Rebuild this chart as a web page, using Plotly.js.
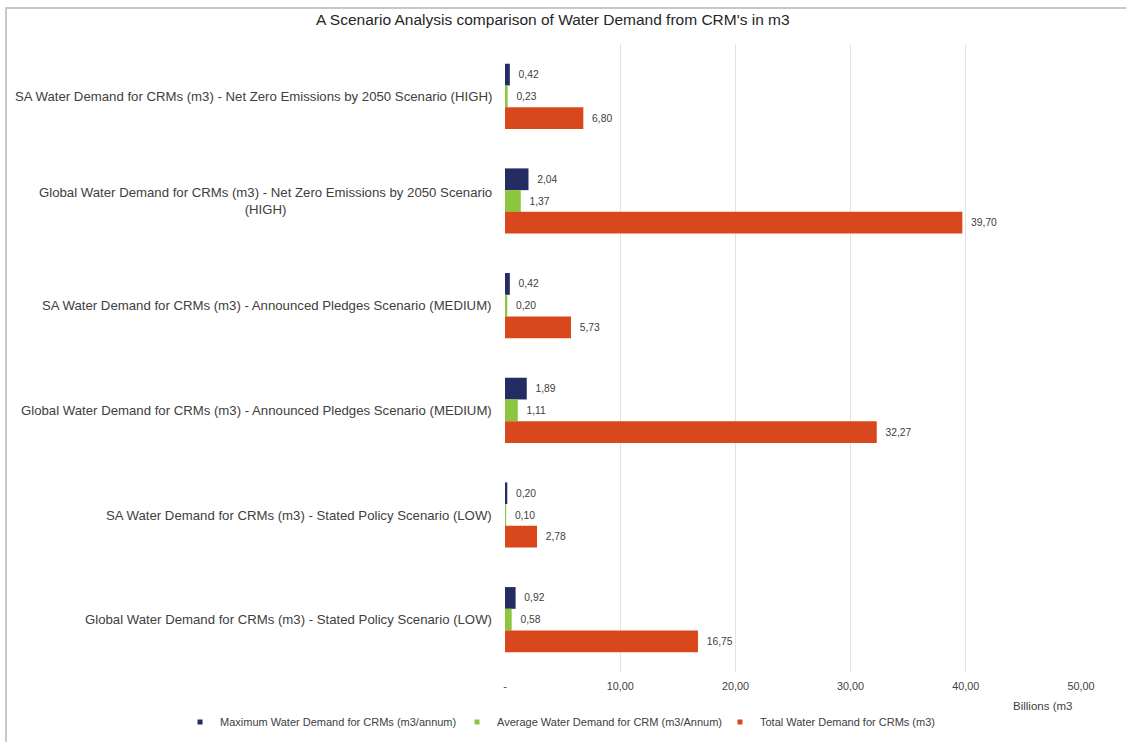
<!DOCTYPE html>
<html>
<head>
<meta charset="utf-8">
<script src="https://cdn.plot.ly/plotly-3.0.1.min.js"></script>
<style>
  html, body { margin: 0; padding: 0; background: #fff; }
  #wrap { position: relative; width: 1126px; height: 742px; }
  #chart { position: absolute; left: 0; top: 0; width: 1126px; height: 742px; }
  #frame { position: absolute; left: 5px; top: 7px; right: 0; bottom: 0;
           border-top: 2px solid #c8c8c8; border-left: 2px solid #c8c8c8; pointer-events: none; }
</style>
</head>
<body>
<div id="wrap"><div id="chart"></div><div id="frame"></div></div>
<script>
const categories = [
  "SA Water Demand for CRMs (m3) - Net Zero Emissions by 2050 Scenario (HIGH)",
  "Global Water Demand for CRMs (m3) - Net Zero Emissions by 2050 Scenario<br>(HIGH)",
  "SA Water Demand for CRMs (m3) - Announced Pledges Scenario (MEDIUM)",
  "Global Water Demand for CRMs (m3) - Announced Pledges Scenario (MEDIUM)",
  "SA Water Demand for CRMs (m3) - Stated Policy Scenario (LOW)",
  "Global Water Demand for CRMs (m3) - Stated Policy Scenario (LOW)"
];
const maxDemand   = [0.42, 2.04, 0.42, 1.89, 0.20, 0.92];
const avgDemand   = [0.23, 1.37, 0.20, 1.11, 0.10, 0.58];
const totalDemand = [6.80, 39.70, 5.73, 32.27, 2.78, 16.75];
const seriesNames = [
  "Maximum Water Demand for CRMs (m3/annum)",
  "Average Water Demand for CRM (m3/Annum)",
  "Total Water Demand for CRMs (m3)"
];
const xTickVals = [0, 10, 20, 30, 40, 50];
const xTickText = ["-", "10,00", "20,00", "30,00", "40,00", "50,00"];
const chartTitle = "A Scenario Analysis comparison of Water Demand from CRM's in m3";
const xAxisLabel = "Billions (m3";

const colors = ["#232c63", "#8cc63e", "#d9481c"];
const values = [maxDemand, avgDemand, totalDemand];
const FONT = "Liberation Sans, Arial, sans-serif";

const traces = [];
values.forEach((v, i) => {
  traces.push({
    type: "bar", orientation: "h",
    x: v, y: categories, name: seriesNames[i],
    marker: { color: colors[i] },
    texttemplate: "\u00a0\u00a0%{x:.2f}",
    textposition: "outside",
    constraintext: "none",
    cliponaxis: false,
    textfont: { family: FONT, size: 10.3, color: "#404040" },
    showlegend: false,
    hoverinfo: "x+name"
  });
});
// legend entries (small square markers)
const legendIds = ["legend", "legend2", "legend3"];
seriesNames.forEach((n, i) => {
  traces.push({
    type: "scatter", mode: "markers", x: [null], y: [null],
    name: n, marker: { color: colors[i], symbol: "square", size: 5 },
    legend: legendIds[i], showlegend: true, hoverinfo: "skip"
  });
});

const legendBase = {
  orientation: "h", yref: "container", y: 0.027, yanchor: "middle",
  xref: "container", xanchor: "left",
  font: { family: FONT, size: 11, color: "#404040" },
  bgcolor: "rgba(0,0,0,0)", borderwidth: 0, itemwidth: 30
};

const annotations = categories.map(c => ({
  xref: "paper", x: -0.0195, xanchor: "right",
  yref: "y", y: c, yanchor: "middle",
  text: c, align: "center", showarrow: false,
  font: { family: FONT, size: 13.2, color: "#404040" }
}));
annotations.push({
  xref: "paper", x: 0.878, xanchor: "left",
  yref: "paper", y: -0.054, yanchor: "middle",
  text: xAxisLabel, showarrow: false,
  font: { family: FONT, size: 11.5, color: "#404040" }
});

const layout = {
  width: 1126, height: 742,
  margin: { l: 505, r: 45, t: 44, b: 70 },
  paper_bgcolor: "#ffffff", plot_bgcolor: "#ffffff",
  separators: ",.",
  font: { family: FONT, color: "#404040" },
  title: {
    text: chartTitle, xref: "container", x: 0.491, xanchor: "center",
    yref: "container", y: 0.973, yanchor: "middle",
    font: { family: FONT, size: 15.5, color: "#262626" }
  },
  barmode: "group", bargap: 0.377, bargroupgap: 0,
  xaxis: {
    range: [0, 50], tickvals: xTickVals, ticktext: xTickText,
    showgrid: true, gridcolor: "#e3e3e3", gridwidth: 1,
    zeroline: false, showline: false, ticks: "",
    ticklabelstandoff: 6,
    tickfont: { family: FONT, size: 10.8, color: "#404040" }
  },
  yaxis: {
    type: "category", autorange: "reversed",
    showticklabels: false, showgrid: false, zeroline: false, showline: false, ticks: ""
  },
  legend:  Object.assign({}, legendBase, { x: 0.1599 }),
  legend2: Object.assign({}, legendBase, { x: 0.4059 }),
  legend3: Object.assign({}, legendBase, { x: 0.6394 }),
  annotations: annotations,
  showlegend: true
};

Plotly.newPlot("chart", traces, layout, { displayModeBar: false, staticPlot: true });
</script>
</body>
</html>
